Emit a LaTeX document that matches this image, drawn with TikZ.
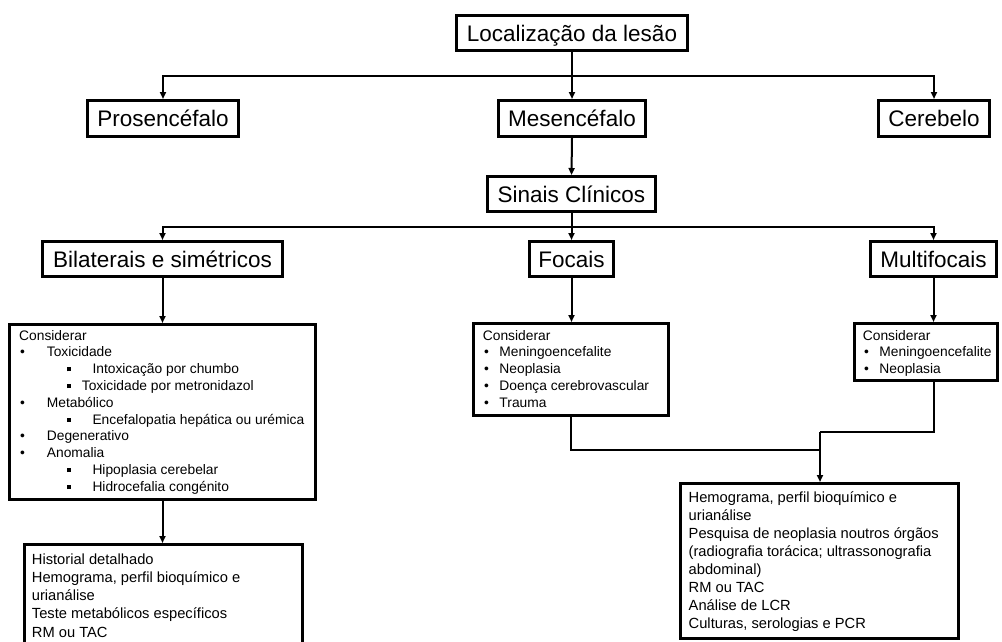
\documentclass[tikz,border=0pt]{standalone}
\usepackage{fontspec}
\setmainfont{Liberation Sans}
\usetikzlibrary{arrows.meta}
\newcommand\sqbullet{\rule[2.2pt]{4pt}{4pt}}
\begin{document}
\begin{tikzpicture}[x=1pt,y=-1pt,
  box/.style={draw, line width=2.6pt, inner sep=0pt, font=\fontsize{22.5}{27}\selectfont, text height=16.1pt, text depth=0pt},
  panel/.style={draw, line width=2.6pt, inner sep=0pt},
  conn/.style={line width=2pt},
  arr/.style={conn, -{Triangle[length=7pt,width=6pt]}},
  small/.style={anchor=base west, inner sep=0pt, font=\fontsize{13.8}{16.8}\selectfont},
  big/.style={anchor=base west, inner sep=0pt, font=\fontsize{14.7}{18}\selectfont}]
\useasboundingbox (0,0) rectangle (1002,641);
\clip (0,0) rectangle (1002,641);

% heading boxes
\node[box, minimum width=231.4pt, minimum height=35.4pt] (loc) at (572,33) {Localização da lesão};
\node[box, minimum width=151.4pt, minimum height=36.4pt] (pros) at (163,118.5) {Prosencéfalo};
\node[box, minimum width=147.4pt, minimum height=36.4pt] (mes) at (572,118.5) {Mesencéfalo};
\node[box, minimum width=111.4pt, minimum height=36.4pt] (cer) at (934,118.5) {Cerebelo};
\node[box, minimum width=168.4pt, minimum height=35.4pt] (sin) at (571.5,194) {Sinais Clínicos};
\node[box, minimum width=240.4pt, minimum height=35.4pt] (bil) at (162.5,259) {Bilaterais e simétricos};
\node[box, minimum width=84.4pt, minimum height=35.4pt] (foc) at (571.5,259) {Focais};
\node[box, minimum width=126.4pt, minimum height=35.4pt] (mul) at (933.5,259) {Multifocais};

% text panels
\node[panel, minimum width=306.4pt, minimum height=175.4pt] (cl) at (162.5,412) {};
\node[panel, minimum width=195.4pt, minimum height=92.4pt] (cm) at (571,369.5) {};
\node[panel, minimum width=143.4pt, minimum height=57.4pt] (cr) at (926,352) {};
\node[panel, minimum width=278.4pt, minimum height=114.4pt] (bl) at (163.5,601.5) {};
\node[panel, minimum width=278.4pt, minimum height=155.4pt] (br) at (819.5,561) {};

% left panel text
\node[small] (cl1) at (19,340) {Considerar};
\node[small] (cl2) at (19,356.8) {\hspace*{1pt}\makebox[26.7pt][l]{•}Toxicidade};
\node[small] (cl3) at (19,373.6) {\hspace*{47.7pt}\makebox[25.6pt][l]{\sqbullet}Intoxicação por chumbo};
\node[small] (cl4) at (19,390.4) {\hspace*{47.7pt}\makebox[15pt][l]{\sqbullet}Toxicidade por metronidazol};
\node[small] (cl5) at (19,407.2) {\hspace*{1pt}\makebox[26.7pt][l]{•}Metabólico};
\node[small] (cl6) at (19,424) {\hspace*{47.7pt}\makebox[25.6pt][l]{\sqbullet}Encefalopatia hepática ou urémica};
\node[small] (cl7) at (19,440.8) {\hspace*{1pt}\makebox[26.7pt][l]{•}Degenerativo};
\node[small] (cl8) at (19,457.6) {\hspace*{1pt}\makebox[26.7pt][l]{•}Anomalia};
\node[small] (cl9) at (19,474.4) {\hspace*{47.7pt}\makebox[25.6pt][l]{\sqbullet}Hipoplasia cerebelar};
\node[small] (cl10) at (19,491.2) {\hspace*{47.7pt}\makebox[25.6pt][l]{\sqbullet}Hidrocefalia congénito};

% middle panel text
\node[small] (cm1) at (482.7,340) {Considerar};
\node[small] (cm2) at (482.7,356.8) {\hspace*{1.3pt}\makebox[15.3pt][l]{•}Meningoencefalite};
\node[small] (cm3) at (482.7,373.6) {\hspace*{1.3pt}\makebox[15.3pt][l]{•}Neoplasia};
\node[small] (cm4) at (482.7,390.4) {\hspace*{1.3pt}\makebox[15.3pt][l]{•}Doença cerebrovascular};
\node[small] (cm5) at (482.7,407.2) {\hspace*{1.3pt}\makebox[15.3pt][l]{•}Trauma};

% right panel text
\node[small] (cr1) at (862.7,340) {Considerar};
\node[small] (cr2) at (862.7,356.8) {\hspace*{1.3pt}\makebox[15.3pt][l]{•}Meningoencefalite};
\node[small] (cr3) at (862.7,373.6) {\hspace*{1.3pt}\makebox[15.3pt][l]{•}Neoplasia};

% bottom left text
\node[big] (bl1) at (31.7,564) {Historial detalhado};
\node[big] (bl2) at (31.7,582.3) {Hemograma, perfil bioquímico e};
\node[big] (bl3) at (31.7,600.6) {urianálise};
\node[big] (bl4) at (31.7,618.9) {Teste metabólicos específicos};
\node[big] (bl5) at (31.7,637.2) {RM ou TAC};

% bottom right text
\node[big] (br1) at (688.5,502.4) {Hemograma, perfil bioquímico e};
\node[big] (br2) at (688.5,520.4) {urianálise};
\node[big] (br3) at (688.5,538.4) {Pesquisa de neoplasia noutros órgãos};
\node[big] (br4) at (688.5,556.4) {(radiografia torácica; ultrassonografia};
\node[big] (br5) at (688.5,574.4) {abdominal)};
\node[big] (br6) at (688.5,592.4) {RM ou TAC};
\node[big] (br7) at (688.5,610.4) {Análise de LCR};
\node[big] (br8) at (688.5,628.4) {Culturas, serologias e PCR};

% connectors
\coordinate (j1) at (572,76);
\coordinate (j2) at (571.5,227);
\coordinate (j3) at (820,450);
\coordinate (j4) at (820,432);

\draw[conn] (loc.south) -- (j1);
\draw[arr] (j1) -| (pros.north);
\draw[arr] (j1) -| (cer.north);
\draw[arr] (j1) -- (mes.north);
\draw[arr] (mes.south) -- (sin.north);

\draw[conn] (sin.south) -- (j2);
\draw[arr] (j2) -| (bil.north);
\draw[arr] (j2) -| (mul.north);
\draw[arr] (j2) -- (foc.north);

\draw[arr] (bil.south) -- (bil.south |- cl.north);
\draw[arr] (foc.south) -- (foc.south |- cm.north);
\draw[arr] (mul.south) -- (mul.south |- cr.north);
\draw[arr] (cl.south) -- (cl.south |- bl.north);

\draw[conn] (cm.south) |- (j3);
\draw[conn] (cr.south -| mul.south) |- (j4);
\draw[arr] (j4) -- (j4 |- br.north);
\end{tikzpicture}
\end{document}
